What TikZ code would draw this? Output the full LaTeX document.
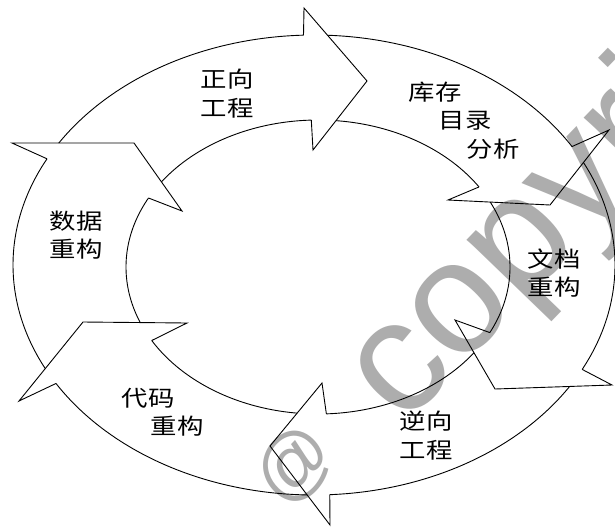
\documentclass[tikz,border=0pt]{standalone}
\usepackage{fontspec}
\usepackage{graphicx}
\newfontfamily\cjk{Noto Sans CJK SC}
\newfontfamily\wmfont{Liberation Sans}
\newcommand\lab[1]{\scalebox{1.2}[1]{\cjk #1}}
\newcommand\outerarc[2]{\draw[ring] plot[domain=#1:#2,samples=90] ({314+301*cos(\x)},{265+230*sin(\x)});}
\newcommand\innerarc[2]{\draw[ring] plot[domain=#1:#2,samples=90] ({318+192*cos(\x)},{267+147*sin(\x)});}
\definecolor{wmgray}{gray}{0.68}
\tikzset{
  ring/.style={line width=0.9pt, black, line join=round},
  headline/.style={line width=0.9pt, black, line join=miter},
  lbl/.style={font=\fontsize{22}{28.5}\selectfont, align=left, inner sep=0pt},
  wm/.style={text=wmgray, inner sep=0pt, rotate=46}
}
\begin{document}
\begin{tikzpicture}[x=1pt, y=-1pt]
\useasboundingbox (0,0) rectangle (615,528);
\clip (0,0) rectangle (615,528);
\fill[white] (0,0) rectangle (615,528);

% watermark
\node[wm, font=\wmfont\fontsize{76}{76}\selectfont] (wmat) at (295,466) {@};
\node[wm, font=\wmfont\fontsize{160}{160}\selectfont, anchor=base west] (wmtext) at (403.1,427.7) {copyright};

% outer ellipse base points (o), inner base points (i)
\coordinate (o1) at ({314+301*cos(-92)},{265+230*sin(-92)});
\coordinate (i1) at ({318+192*cos(-92)},{267+147*sin(-92)});
\coordinate (o2) at ({314+301*cos(-31)},{265+230*sin(-31)});
\coordinate (i2) at ({318+192*cos(-33)},{267+147*sin(-33)});
\coordinate (o3) at ({314+301*cos(27)},{265+230*sin(27)});
\coordinate (i3) at ({318+192*cos(26.5)},{267+147*sin(26.5)});
\coordinate (o4) at ({314+301*cos(87)},{265+230*sin(87)});
\coordinate (i4) at ({318+192*cos(87.5)},{267+147*sin(87.5)});
\coordinate (o5) at ({314+301*cos(149)},{265+230*sin(149)});
\coordinate (i5) at ({318+192*cos(150)},{267+147*sin(150)});
\coordinate (o6) at ({314+301*cos(207.5)},{265+230*sin(207.5)});
\coordinate (i6) at ({318+192*cos(208)},{267+147*sin(208)});

% barbs and tips
\coordinate (bo1) at (304,8);   \coordinate (t1) at (367,81);  \coordinate (bi1) at (313,150);
\coordinate (bo2) at (609,130); \coordinate (t2) at (550,205); \coordinate (bi2) at (448,200);
\coordinate (bo3) at (612,385); \coordinate (t3) at (495,389); \coordinate (bi3) at (455,320);
\coordinate (bo4) at (330,525); \coordinate (t4) at (270,446); \coordinate (bi4) at (322,383);
\coordinate (bo5) at (19,401);  \coordinate (t5) at (83,322);  \coordinate (bi5) at (187,323);
\coordinate (bo6) at (12,143);  \coordinate (t6) at (134,143); \coordinate (bi6) at (182,211);

% ring arcs between arrowheads
\outerarc{-87.4}{-31}
\outerarc{-26.5}{27}
\outerarc{31.9}{87}
\outerarc{91.3}{149}
\outerarc{153.2}{207.5}
\outerarc{212.0}{268}
\innerarc{-84.6}{-33}
\innerarc{-26.2}{26.5}
\innerarc{35.7}{87.5}
\innerarc{96.2}{150}
\innerarc{157.8}{208}
\innerarc{215.4}{268}

% arrowheads
\draw[headline] (o1) -- (bo1) -- (t1) -- (bi1) -- (i1);
\draw[headline] (o2) -- (bo2) -- (t2) -- (bi2) -- (i2);
\draw[headline] (o3) -- (bo3) -- (t3) -- (bi3) -- (i3);
\draw[headline] (o4) -- (bo4) -- (t4) -- (bi4) -- (i4);
\draw[headline] (o5) -- (bo5) -- (t5) -- (bi5) -- (i5);
\draw[headline] (o6) -- (bo6) -- (t6) -- (bi6) -- (i6);

% labels
\node[lbl] (fwd) at (227,93.5) {\lab{正向}\\\lab{工程}};
\node[lbl] (inv) at (464,120.5) {\lab{库存}\\\hspace*{30pt}\lab{目录}\\\hspace*{58pt}\lab{分析}};
\node[lbl] (doc) at (554,273) {\lab{文档}\\\lab{重构}};
\node[lbl] (rev) at (426,435.5) {\lab{逆向}\\\lab{工程}};
\node[lbl] (code) at (162.5,412.5) {\lab{代码}\\\hspace*{29pt}\lab{重构}};
\node[lbl] (data) at (76,235) {\lab{数据}\\\lab{重构}};
\end{tikzpicture}
\end{document}
